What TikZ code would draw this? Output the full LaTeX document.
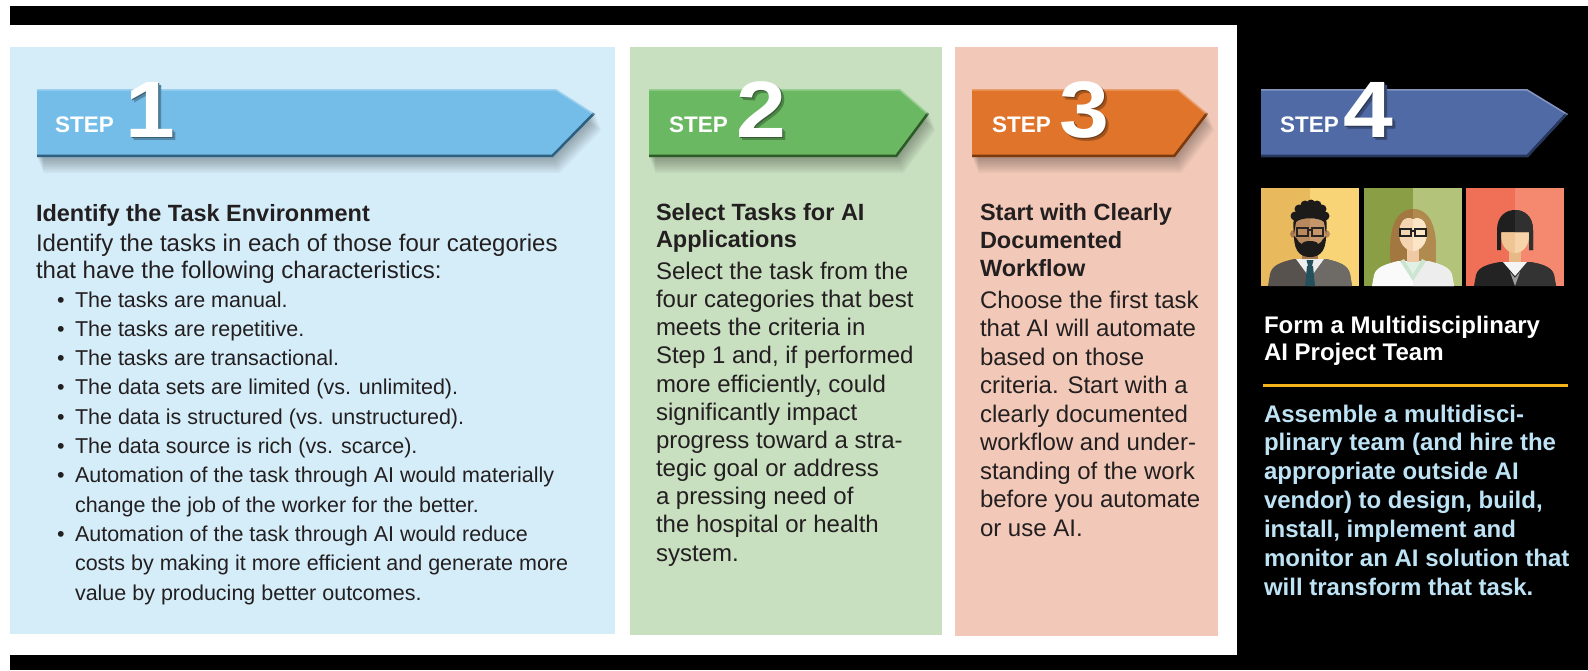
\documentclass[tikz,border=0pt]{standalone}
\usepackage{fontspec}
\setmainfont{Liberation Sans}
\usepackage{graphicx}
\newcommand\dc[2]{\definecolor{#1}{HTML}{#2}}
\dc{txt}{231F20}
\dc{pone}{D5EDF9}
\dc{ptwo}{C8DFC0}
\dc{pthree}{F2C9B8}
\dc{aone}{74BDE8}
\dc{aoned}{2F5F7E}
\dc{atwo}{6AB862}
\dc{atwod}{2E5A2A}
\dc{athree}{E0742A}
\dc{athreed}{7A3A10}
\dc{afour}{4F6AA5}
\dc{afourd}{27375C}
\dc{ptxt}{BEE3F5}
\dc{gold}{F5B41B}
\dc{mbgL}{E9B95E}\dc{mbgR}{F8D477}\dc{msuitL}{57524E}\dc{msuitR}{6E6A65}
\dc{mneck}{A8794F}\dc{mshirt}{EEEEEE}\dc{mtie}{24505E}\dc{mfaceL}{B7895D}
\dc{mfaceR}{C6976A}\dc{mhair}{1C1B1A}\dc{mglass}{2A2522}\dc{mear}{B8895C}
\dc{wbgL}{8A9F45}\dc{wbgR}{B3C37A}\dc{whairL}{A27840}\dc{whairR}{B08A4E}
\dc{wcoatL}{FAFAFA}\dc{wcoatR}{EDEDED}\dc{wmint}{CBE5D1}\dc{wneck}{EFC9A3}
\dc{wshirt}{E2F1E6}\dc{wfaceL}{F5D4B2}\dc{wfaceR}{FCE4C6}\dc{wglass}{222222}
\dc{rbgL}{EF6F57}\dc{rbgR}{F5896F}\dc{rsuitL}{232323}\dc{rsuitR}{333333}
\dc{rneck}{E8B887}\dc{rshirt}{F4F4F4}\dc{rvest}{9C9C9C}\dc{rfaceL}{F0C595}
\dc{rfaceR}{F6D3A8}\dc{rhairL}{1F1F1F}\dc{rhairR}{303030}
\tikzset{
  txtline/.style={anchor=base west, inner sep=0pt, outer sep=0pt},
  body/.style={txtline, text=txt, font=\fontsize{24}{28}\selectfont},
  bul/.style={txtline, text=txt, font=\fontsize{21.5}{28}\selectfont},
  head/.style={txtline, text=txt, font=\bfseries\fontsize{23.5}{28}\selectfont},
  fhead/.style={txtline, text=white, font=\bfseries\fontsize{24}{28}\selectfont},
  fbody/.style={txtline, text=ptxt, font=\bfseries\fontsize{24}{28}\selectfont},
  steplbl/.style={txtline, text=white, font=\bfseries\fontsize{22.5}{26}\selectfont},
  stepnum/.style={txtline, text=white, font=\bfseries\fontsize{80}{80}\selectfont},
}
% style, name prefix, x, y0, dy, list
\newcommand\textlines[6]{%
  \foreach \t [count=\i from 0] in {#6} {\node[#1] (#2\i) at (#3, #4+\i*#5) {\t};}}
% L, S(top), Sb(bottom), T(tip), fill, dark
\newcommand\steparrow[6]{%
  \foreach \k in {1,...,8}{
    \fill[black,opacity=0.04] (#1+\k*0.8,89+\k*2) -- (#2+\k*0.8,89+\k*2) -- (#4+\k*0.8,114+\k*2)
      -- (#3+\k*0.8,157+\k*2) -- (#1+\k*0.8,157+\k*2) -- cycle;
  }
  \fill[#5] (#1,89) -- (#2,89) -- (#4,114) -- (#3,157) -- (#1,157) -- cycle;
  \begin{scope}
    \clip (#1,89) -- (#2,89) -- (#4,114) -- (#3,157) -- (#1,157) -- cycle;
    \draw[#6, line width=5] (#1,157) -- (#3,157) -- (#4,114);
    \draw[white, opacity=0.3, line width=3] (#1,89) -- (#2,89) -- (#4,114);
  \end{scope}
}
\newcommand\dig[1]{\scalebox{1.12}[1]{#1}}
% x of STEP, x of digit, digit, name, arrow colour
\newcommand\steplabel[5]{%
  \node[steplbl] (#4s) at (#1,132) {STEP};
  \node[stepnum] (#4n) at (#2,137) {%
    \rlap{\hspace{3.5pt}\raisebox{-3.5pt}{\color{#5!72!black}\dig{#3}}}%
    \rlap{\hspace{1.8pt}\raisebox{-1.8pt}{\color{#5!50!black}\dig{#3}}}%
    \dig{#3}};
}
\newcommand\twotone[3]{\fill[#2] #1; \begin{scope}\clip (49,-1) rectangle (99,99); \fill[#3] #1; \end{scope}}
\begin{document}
\begin{tikzpicture}[x=1pt,y=-1pt]
\useasboundingbox (0,0) rectangle (1588,670);
\fill[white] (0,0) rectangle (1588,670);
\fill[black] (10,6) rectangle (1588,670);
\fill[white] (0,25) rectangle (1237,655);
% panels
\fill[pone] (10,47) rectangle (615,634);
\fill[ptwo] (630,47) rectangle (942,635);
\fill[pthree] (955,47) rectangle (1218,636);
% arrows
\steparrow{37}{556}{553}{595}{aone}{aoned}
\steparrow{649}{900}{897}{929}{atwo}{atwod}
\steparrow{972}{1178}{1175}{1208}{athree}{athreed}
\steparrow{1261}{1527}{1528}{1568}{afour}{afourd}
\steplabel{55}{125}{1}{st1}{aone}
\steplabel{669}{736}{2}{st2}{atwo}
\steplabel{992}{1059}{3}{st3}{athree}
\steplabel{1280}{1343}{4}{st4}{afour}
% panel 1
\node[head] (p1h) at (36,221) {Identify the Task Environment};
\textlines{body}{p1b}{36}{251}{27.5}{Identify the tasks in each of those four categories,that have the following characteristics:}
\textlines{bul}{p1l}{75}{307}{29.3}{The tasks are manual.,The tasks are repetitive.,The tasks are transactional.,The data sets are limited (vs. unlimited).,The data is structured (vs. unstructured).,The data source is rich (vs. scarce).,Automation of the task through AI would materially,change the job of the worker for the better.,Automation of the task through AI would reduce,costs by making it more efficient and generate more,value by producing better outcomes.}
\foreach \i in {0,1,2,3,4,5,6,8}{\node[bul] (p1d\i) at (57,307+\i*29.3) {•};}
% panel 2
\textlines{head}{p2h}{656}{220}{27}{Select Tasks for AI,Applications}
\textlines{body}{p2b}{656}{279.5}{28.15}{Select the task from the,four categories that best,meets the criteria in,{Step 1 and, if performed},{more efficiently, could},significantly impact,progress toward a stra-,tegic goal or address,a pressing need of,the hospital or health,system.}
% panel 3
\textlines{head}{p3h}{980}{220}{28}{Start with Clearly,Documented,Workflow}
\textlines{body}{p3b}{980}{308}{28.5}{Choose the first task,that AI will automate,based on those,criteria. Start with a,clearly documented,workflow and under-,standing of the work,before you automate,or use AI.}
% panel 4
\textlines{fhead}{p4h}{1264}{333}{27}{Form a Multidisciplinary,AI Project Team}
\draw[gold, line width=3] (1263,385) -- (1568,385);
\textlines{fbody}{p4b}{1264}{422}{28.9}{Assemble a multidisci-,plinary team (and hire the,appropriate outside AI,{vendor) to design, build,},{install, implement and},monitor an AI solution that,will transform that task.}
% people
\begin{scope}[shift={(1261,188)}]
  \fill[mbgL] (0,0) rectangle (49,98);
  \fill[mbgR] (49,0) rectangle (98,98);
  \twotone{(7,98) -- (9,86) .. controls (11,77) and (20,74) .. (33,71) -- (65,71) .. controls (78,74) and (87,77) .. (89,86) -- (91,98) -- cycle}{msuitL}{msuitR}
  \fill[mneck] (41,56) rectangle (57,73);
  \fill[mshirt] (35,71) -- (49,90) -- (63,71) -- cycle;
  \fill[mtie] (46,78) -- (52,78) -- (54,98) -- (44,98) -- cycle;
  \fill[mtie] (45.5,72) -- (52.5,72) -- (51,78) -- (47,78) -- cycle;
  \fill[mneck] (33,46) circle (4);
  \fill[mear] (65,46) circle (4);
  \twotone{(49,44) ellipse (16 and 21)}{mfaceL}{mfaceR}
  \fill[mhair] (33,46) .. controls (30,24) and (38,15) .. (49,15) .. controls (60,15) and (68,24) .. (65,46) -- (63,34) .. controls (58,29) and (40,29) .. (35,34) -- cycle;
  \foreach \cx/\cy in {34/28,38/21,44/17,50/16,56/17,61/21,64/28}{\fill[mhair] (\cx,\cy) circle (4.5);}
  \fill[mhair] (33,48) .. controls (33,66) and (42,69) .. (49,69) .. controls (56,69) and (65,66) .. (65,48) -- (62,51) .. controls (59,60) and (39,60) .. (36,51) -- cycle;
  \fill[mhair] (49,56) ellipse (8 and 3);
  \draw[mglass, line width=1.8] (36,40) rectangle (47,48) (51,40) rectangle (62,48) (47,42) -- (51,42);
\end{scope}
\begin{scope}[shift={(1364,188)}]
  \fill[wbgL] (0,0) rectangle (49,98);
  \fill[wbgR] (49,0) rectangle (98,98);
  \twotone{(27,80) .. controls (24,50) and (27,22) .. (49,21) .. controls (71,22) and (74,50) .. (71,80) -- cycle}{whairL}{whairR}
  \twotone{(8,98) -- (10,87) .. controls (12,79) and (22,76) .. (34,73) -- (64,73) .. controls (76,76) and (86,79) .. (88,87) -- (90,98) -- cycle}{wcoatL}{wcoatR}
  \fill[wmint] (36,73) -- (49,93) -- (62,73) -- (58,71) -- (49,86) -- (40,71) -- cycle;
  \fill[wneck] (43,58) rectangle (55,75);
  \fill[wshirt] (42,74) -- (49,85) -- (56,74) -- cycle;
  \twotone{(49,45) ellipse (14 and 18)}{wfaceL}{wfaceR}
  \twotone{(34,48) .. controls (31,29) and (38,23) .. (49,23) .. controls (60,23) and (67,29) .. (64,48) -- (62,35) .. controls (58,29) and (52,29) .. (49,31) .. controls (46,29) and (40,29) .. (36,35) -- cycle}{whairL}{whairR}
  \draw[wglass, line width=1.8] (36,41) rectangle (47,48) (51,41) rectangle (62,48) (47,43) -- (51,43);
\end{scope}
\begin{scope}[shift={(1466,188)}]
  \fill[rbgL] (0,0) rectangle (49,98);
  \fill[rbgR] (49,0) rectangle (98,98);
  \twotone{(8,98) -- (10,87) .. controls (12,79) and (22,76) .. (34,74) -- (64,74) .. controls (76,76) and (86,79) .. (88,87) -- (90,98) -- cycle}{rsuitL}{rsuitR}
  \fill[rneck] (43,60) rectangle (55,76);
  \fill[rshirt] (37,74) -- (49,88) -- (61,74) -- cycle;
  \fill[rvest] (44,84) -- (49,98) -- (54,84) -- (49,90) -- cycle;
  \twotone{(49,48) ellipse (14 and 17)}{rfaceL}{rfaceR}
  \twotone{(31,62) -- (31,42) .. controls (31,28) and (40,22) .. (49,22) .. controls (58,22) and (67,28) .. (67,42) -- (67,62) -- (63,62) -- (63,44) -- (35,44) -- (35,62) -- cycle}{rhairL}{rhairR}
\end{scope}
\end{tikzpicture}
\end{document}
